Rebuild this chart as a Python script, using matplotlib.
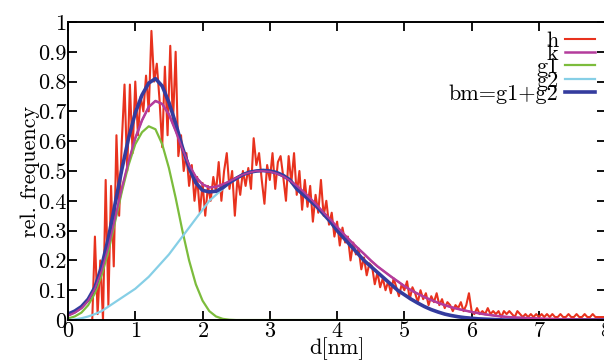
import numpy as np
import matplotlib
matplotlib.use("Agg")
import matplotlib.pyplot as plt

plt.rcParams['font.family'] = ['cmr10', 'DejaVu Serif']
plt.rcParams['axes.formatter.use_mathtext'] = True
plt.rcParams['mathtext.fontset'] = 'cm'

# fitted curves, sampled every 0.1 nm from 0 to 8
d_fit = np.round(np.arange(0, 8.01, 0.1), 2)

g1 = [0.005, 0.012, 0.025, 0.05, 0.09, 0.15, 0.23, 0.33, 0.43, 0.52,
      0.59, 0.63, 0.65, 0.64, 0.59, 0.51, 0.41, 0.30, 0.20, 0.12,
      0.065, 0.03, 0.012, 0.004, 0.001, 0, 0, 0, 0, 0,
      0, 0, 0, 0, 0, 0, 0, 0, 0, 0,
      0, 0, 0, 0, 0, 0, 0, 0, 0, 0,
      0, 0, 0, 0, 0, 0, 0, 0, 0, 0,
      0, 0, 0, 0, 0, 0, 0, 0, 0, 0,
      0, 0, 0, 0, 0, 0, 0, 0, 0, 0, 0]

g2 = [0.0, 0.002, 0.006, 0.012, 0.02, 0.03, 0.045, 0.06, 0.075, 0.09,
      0.105, 0.125, 0.145, 0.17, 0.195, 0.22, 0.25, 0.28, 0.31, 0.34,
      0.37, 0.40, 0.42, 0.44, 0.46, 0.475, 0.488, 0.496, 0.50, 0.502,
      0.50, 0.495, 0.485, 0.47, 0.44, 0.42, 0.40, 0.38, 0.355, 0.33,
      0.30, 0.275, 0.25, 0.225, 0.20, 0.18, 0.16, 0.14, 0.12, 0.10,
      0.085, 0.07, 0.057, 0.045, 0.035, 0.027, 0.02, 0.015, 0.011, 0.008,
      0.006, 0.004, 0.003, 0.002, 0.001, 0, 0, 0, 0, 0,
      0, 0, 0, 0, 0, 0, 0, 0, 0, 0, 0]

bm = [0.02, 0.03, 0.045, 0.07, 0.11, 0.18, 0.275, 0.39, 0.505, 0.61,
      0.695, 0.755, 0.795, 0.81, 0.785, 0.73, 0.66, 0.58, 0.51, 0.46,
      0.435, 0.43, 0.432, 0.444, 0.461, 0.475, 0.488, 0.496, 0.50, 0.502,
      0.50, 0.495, 0.485, 0.47, 0.44, 0.42, 0.40, 0.38, 0.355, 0.33,
      0.30, 0.275, 0.25, 0.225, 0.20, 0.18, 0.16, 0.14, 0.12, 0.10,
      0.085, 0.07, 0.057, 0.045, 0.035, 0.027, 0.02, 0.015, 0.011, 0.008,
      0.006, 0.004, 0.003, 0.002, 0.001, 0, 0, 0, 0, 0,
      0, 0, 0, 0, 0, 0, 0, 0, 0, 0, 0]

k = [0.015, 0.025, 0.04, 0.065, 0.105, 0.165, 0.245, 0.34, 0.44, 0.53,
     0.61, 0.67, 0.715, 0.735, 0.725, 0.69, 0.635, 0.575, 0.52, 0.48,
     0.455, 0.445, 0.447, 0.455, 0.465, 0.477, 0.488, 0.495, 0.50, 0.50,
     0.498, 0.492, 0.482, 0.468, 0.45, 0.43, 0.408, 0.385, 0.36, 0.337,
     0.312, 0.288, 0.265, 0.243, 0.222, 0.20, 0.18, 0.163, 0.146, 0.13,
     0.114, 0.10, 0.088, 0.077, 0.067, 0.058, 0.05, 0.043, 0.037, 0.032,
     0.027, 0.023, 0.019, 0.016, 0.013, 0.011, 0.009, 0.008, 0.007, 0.006,
     0.005, 0.004, 0.004, 0.003, 0.003, 0.003, 0.002, 0.002, 0.002, 0.002, 0.001]

# histogram, bins every 0.04 nm from 0.36 to 7.96
d_h = np.round(np.arange(0.36, 7.97, 0.04), 2)
h = [0.00, 0.28, 0.02, 0.20, 0.00, 0.47, 0.05, 0.45, 0.18, 0.62,
     0.35, 0.60, 0.79, 0.50, 0.79, 0.56, 0.80, 0.62, 0.75, 0.70,
     0.82, 0.70, 0.97, 0.80, 0.86, 0.74, 0.58, 0.85, 0.62, 0.92,
     0.66, 0.90, 0.55, 0.62, 0.50, 0.56, 0.45, 0.52, 0.40, 0.48,
     0.36, 0.46, 0.35, 0.45, 0.40, 0.48, 0.43, 0.53, 0.40, 0.50,
     0.56, 0.44, 0.50, 0.35, 0.48, 0.42, 0.50, 0.45, 0.51, 0.44,
     0.61, 0.52, 0.56, 0.47, 0.39, 0.52, 0.47, 0.56, 0.44, 0.53,
     0.55, 0.48, 0.40, 0.55, 0.46, 0.56, 0.42, 0.50, 0.37, 0.47,
     0.38, 0.45, 0.33, 0.42, 0.36, 0.47, 0.35, 0.40, 0.32, 0.36,
     0.28, 0.33, 0.25, 0.31, 0.26, 0.28, 0.20, 0.26, 0.22, 0.24,
     0.17, 0.21, 0.15, 0.19, 0.18, 0.12, 0.16, 0.11, 0.14, 0.10,
     0.13, 0.09, 0.14, 0.11, 0.08, 0.12, 0.10, 0.13, 0.07, 0.11,
     0.09, 0.06, 0.10, 0.07, 0.09, 0.05, 0.08, 0.06, 0.09, 0.05,
     0.07, 0.04, 0.06, 0.05, 0.03, 0.05, 0.04, 0.06, 0.03, 0.05,
     0.09, 0.03, 0.02, 0.04, 0.02, 0.03, 0.02, 0.04, 0.02, 0.03,
     0.02, 0.03, 0.01, 0.03, 0.02, 0.03, 0.02, 0.01, 0.03, 0.02,
     0.01, 0.02, 0.01, 0.02, 0.01, 0.02, 0.01, 0.02, 0.01, 0.02,
     0.01, 0.02, 0.01, 0.01, 0.02, 0.01, 0.01, 0.02, 0.01, 0.01,
     0.02, 0.01, 0.01, 0.02, 0.01, 0.01, 0.02, 0.01, 0.01, 0.01,
     0.01]

fs = 16

fig = plt.figure(figsize=(6.04, 3.6), dpi=100)
ax = fig.add_axes([0.1126, 0.111, 0.891, 0.828])

ax.plot(d_h, h, color='#e8321e', lw=1.5, label='h')
ax.plot(d_fit, k, color='#b43c9c', lw=1.8, label='k')
ax.plot(d_fit, g1, color='#7cbc3c', lw=1.6, label='g1')
ax.plot(d_fit, g2, color='#86cfe6', lw=1.6, label='g2')
ax.plot(d_fit, bm, color='#343c9e', lw=2.6, label='bm=g1+g2')
# keep the magenta line visible on top of the blue like the reference
ax.plot(d_fit, k, color='#b43c9c', lw=1.3)

ax.set_xlim(0, 8)
ax.set_ylim(0, 1)
ax.set_xticks(range(0, 9))
ax.set_yticks(np.round(np.arange(0, 1.01, 0.1), 1))
ax.set_yticklabels(['0', '0.1', '0.2', '0.3', '0.4', '0.5', '0.6', '0.7', '0.8', '0.9', '1'])
ax.tick_params(direction='in', top=True, right=True, length=6.5, width=1.3,
               labelsize=fs, pad=1)
for s in ax.spines.values():
    s.set_linewidth(1.4)

ax.set_xlabel('d[nm]', fontsize=fs, labelpad=-3)
ax.set_ylabel('rel. frequency', fontsize=fs, labelpad=-1)

ax.legend(loc='upper right', bbox_to_anchor=(595 / 604, 1 - 31 / 360),
          bbox_transform=fig.transFigure, frameon=False, markerfirst=False,
          fontsize=fs, labelspacing=-0.28, handlelength=1.35, handletextpad=0.3,
          borderpad=0, borderaxespad=0)

fig.savefig('out.png', dpi=100)
